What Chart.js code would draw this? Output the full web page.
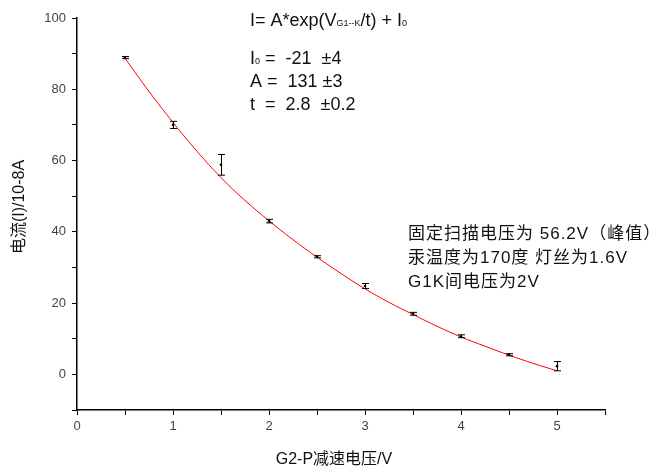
<!DOCTYPE html>
<html><head><meta charset="utf-8">
<script src="https://cdn.jsdelivr.net/npm/chart.js@4"></script>
<style>html,body{margin:0;padding:0;background:#fff}#wrap{width:661px;height:469px;position:relative}</style>
</head><body><div id="wrap"><canvas id="c" width="661" height="469"></canvas></div>
<script>
// measured data
const voltages = [0.5, 1, 1.5, 2, 2.5, 3, 3.5, 4, 4.5, 5];
const currents = [88.9, 70.0, 58.8, 43.0, 33.0, 24.8, 17.0, 10.7, 5.5, 2.3];
const errors   = [0.3, 1.0, 2.9, 0.5, 0.3, 0.7, 0.4, 0.4, 0.3, 1.3];
// fit curve
const fitV = [0.5, 0.75, 1, 1.25, 1.5, 1.75, 2, 2.25, 2.5, 2.75, 3, 3.25, 3.5, 3.75, 4, 4.25, 4.5, 4.75, 5];
const fitI = [88.7, 79.4, 70.7, 62.6, 55.2, 48.8, 43.1, 37.8, 32.9, 28.3, 24.0, 20.2, 16.8, 13.5, 10.5, 7.9, 5.4, 3.1, 1.0];
const xTickLabels = ['0','1','2','3','4','5'];
const yTickLabels = ['0','20','40','60','80','100'];

const FONT = '"Liberation Sans", Arial, "Noto Sans CJK SC", sans-serif';

const errPlugin = {
  id: 'err',
  afterDatasetsDraw(chart) {
    const ctx = chart.ctx, xs = chart.scales.x, ys = chart.scales.y;
    ctx.save();
    ctx.strokeStyle = '#000'; ctx.fillStyle = '#000'; ctx.lineWidth = 1;
    voltages.forEach((v, i) => {
      const px = Math.round(xs.getPixelForValue(v)) + 0.5;
      const top = ys.getPixelForValue(currents[i] + errors[i]);
      const bot = ys.getPixelForValue(currents[i] - errors[i]);
      ctx.beginPath();
      ctx.moveTo(px, top); ctx.lineTo(px, bot);
      ctx.moveTo(px - 3.5, top); ctx.lineTo(px + 3.5, top);
      ctx.moveTo(px - 3.5, bot); ctx.lineTo(px + 3.5, bot);
      ctx.stroke();
    });
    ctx.restore();
  }
};

const textPlugin = {
  id: 'txt',
  afterDraw(chart) {
    const ctx = chart.ctx;
    ctx.save();
    ctx.fillStyle = '#111';
    ctx.textBaseline = 'alphabetic';
    // formula with subscripts
    let x = 250, y = 26;
    const big = '18px ' + FONT, small = '9px ' + FONT;
    const parts = [['I= A*exp(V', big], ['G1--K', small], ['/t) + I', big], ['0', small]];
    parts.forEach(p => { ctx.font = p[1]; ctx.fillText(p[0], x, y); x += ctx.measureText(p[0]).width; });
    // parameters
    ctx.font = big;
    const lx = 250;
    ctx.fillText('I', lx, 64);
    let w = ctx.measureText('I').width;
    ctx.font = small; ctx.fillText('0', lx + w, 64); w += ctx.measureText('0').width;
    ctx.font = big; ctx.fillText(' =  -21  \u00B14', lx + w, 64);
    ctx.fillText('A =  131 \u00B13', lx, 87);
    ctx.fillText('t  =  2.8  \u00B10.2', lx, 110);
    // conditions
    ctx.font = '17px ' + FONT;
    ctx.letterSpacing = '1px';
    ctx.fillText('固定扫描电压为 56.2V（峰值）', 408, 239);
    ctx.fillText('汞温度为170度 灯丝为1.6V', 408, 263);
    ctx.fillText('G1K间电压为2V', 408, 287);
    ctx.letterSpacing = '0px';
    // axis titles
    ctx.font = '16px ' + FONT;
    ctx.textAlign = 'center';
    ctx.fillText('G2-P减速电压/V', 334, 464);
    ctx.translate(24, 207);
    ctx.rotate(-Math.PI / 2);
    ctx.fillText('电流(I)/10-8A', 0, 0);
    ctx.restore();
  }
};

new Chart(document.getElementById('c'), {
  type: 'scatter',
  data: {
    datasets: [
      { data: fitV.map((v, i) => ({x: v, y: fitI[i]})), showLine: true, borderColor: '#ff0000', borderWidth: 1, pointRadius: 0, tension: 0.4, order: 2 },
      { data: voltages.map((v, i) => ({x: v, y: currents[i]})), pointRadius: 1.3, backgroundColor: '#000', borderColor: '#000', borderWidth: 0, order: 1 }
    ]
  },
  options: {
    responsive: false, animation: false,
    layout: { padding: { left: 0, right: 56, top: 18, bottom: 0 } },
    plugins: { legend: { display: false }, tooltip: { enabled: false } },
    scales: {
      x: {
        type: 'linear', min: 0, max: 5.5,
        afterFit(s) { s.height = 59; },
        afterBuildTicks(s) { const t = []; for (let k = 0; k <= 11; k++) t.push({value: k * 0.5}); s.ticks = t; },
        ticks: { autoSkip: false, maxRotation: 0, color: '#444', font: { size: 13, family: FONT }, padding: 4,
          callback(v) { const i = xTickLabels.indexOf(String(v)); return i >= 0 ? xTickLabels[i] : ''; } },
        grid: { drawOnChartArea: false, drawTicks: true, tickLength: 5, color: '#000', lineWidth: 1 },
        border: { color: '#000', width: 1.5 }
      },
      y: {
        type: 'linear', min: -10, max: 100,
        afterFit(s) { s.width = 77; },
        afterBuildTicks(s) { const t = []; for (let k = -1; k <= 10; k++) t.push({value: k * 10}); s.ticks = t; },
        ticks: { autoSkip: false, color: '#444', font: { size: 13, family: FONT }, padding: 6,
          callback(v) { const i = yTickLabels.indexOf(String(v)); return i >= 0 ? yTickLabels[i] : ''; } },
        grid: { drawOnChartArea: false, drawTicks: true, tickLength: 5, color: '#000', lineWidth: 1 },
        border: { color: '#000', width: 1.5 }
      }
    }
  },
  plugins: [errPlugin, textPlugin]
});
</script></body></html>
